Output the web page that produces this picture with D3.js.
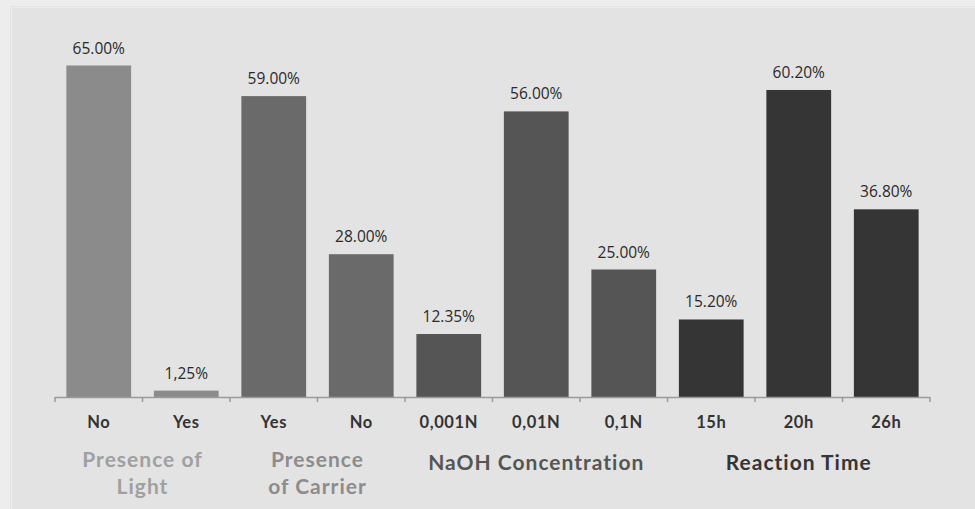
<!DOCTYPE html>
<html>
<head>
<meta charset="utf-8">
<script src="https://cdn.jsdelivr.net/npm/d3@7"></script>
<style>
  html, body { margin: 0; padding: 0; background: #ededed; }
  svg { display: block; }
</style>
</head>
<body>
<svg id="chart" width="975" height="509"></svg>
<script>
// Yield (%) by experimental condition
const categories = ["No", "Yes", "Yes", "No", "0,001N", "0,01N", "0,1N", "15h", "20h", "26h"];
const values = [65, 1.25, 59, 28, 12.35, 56, 25, 15.2, 60.2, 36.8];
const valueLabels = ["65.00%", "1,25%", "59.00%", "28.00%", "12.35%", "56.00%", "25.00%", "15.20%", "60.20%", "36.80%"];
const groupOfBar = [0, 0, 1, 1, 2, 2, 2, 3, 3, 3];
const groupNames = [["Presence of", "Light"], ["Presence", "of Carrier"], ["NaOH Concentration"], ["Reaction Time"]];
const barColors = ["#8b8b8b", "#6a6a6a", "#555555", "#353535"];
const groupTextColors = ["#a0a0a0", "#8c8c8c", "#555555", "#353535"];

const svg = d3.select("#chart");
const W = 975, H = 509;
const baseY = 397, topY = 40;

// panel background
svg.append("rect").attr("x", 10).attr("y", 6).attr("width", W - 10).attr("height", H - 6)
  .attr("fill", "#e3e3e3");
svg.append("rect").attr("x", 11.5).attr("y", 7.5).attr("width", W - 10).attr("height", H - 6)
  .attr("fill", "none").attr("stroke", "#ececec").attr("stroke-width", 1);

const idx = d3.range(categories.length);
const x = d3.scaleBand().domain(idx).range([55, 930]).paddingInner(0.26).paddingOuter(0.13);
const y = d3.scaleLinear().domain([0, 70]).range([baseY, topY]);

// bars
svg.append("g").selectAll("rect").data(idx).join("rect")
  .attr("x", i => x(i))
  .attr("y", i => y(values[i]))
  .attr("width", x.bandwidth())
  .attr("height", i => y(0) - y(values[i]))
  .attr("fill", i => barColors[groupOfBar[i]]);

// value labels
svg.append("g").selectAll("text").data(idx).join("text")
  .attr("x", i => x(i) + x.bandwidth() / 2)
  .attr("y", i => y(values[i]) - 12)
  .attr("text-anchor", "middle")
  .attr("font-family", "'Open Sans', sans-serif")
  .attr("font-size", 15.5)
  .attr("fill", "#2a2a2a")
  .text(i => valueLabels[i]);

// category axis with ticks between categories
const step = x.step();
const x0 = x.range()[0];
const axis = svg.append("g");
axis.append("line").attr("x1", x0).attr("x2", x.range()[1])
  .attr("y1", baseY + 0.5).attr("y2", baseY + 0.5)
  .attr("stroke", "#9a9a9a").attr("stroke-width", 1.5);
axis.selectAll("line.tick").data(d3.range(categories.length + 1)).join("line")
  .attr("class", "tick")
  .attr("x1", k => x0 + k * step).attr("x2", k => x0 + k * step)
  .attr("y1", baseY).attr("y2", baseY + 5)
  .attr("stroke", "#9a9a9a").attr("stroke-width", 1.5);

// category labels
svg.append("g").selectAll("text").data(idx).join("text")
  .attr("x", i => x(i) + x.bandwidth() / 2)
  .attr("y", 428)
  .attr("text-anchor", "middle")
  .attr("font-family", "Lato, sans-serif")
  .attr("font-weight", "bold")
  .attr("font-size", 16.5)
  .attr("letter-spacing", 0.6)
  .attr("fill", "#333")
  .text(i => categories[i]);

// group labels centred under their bars
groupNames.forEach((lines, g) => {
  const members = idx.filter(i => groupOfBar[i] === g);
  const cx = (x(members[0]) + x(members[members.length - 1]) + x.bandwidth()) / 2;
  const t = svg.append("text")
    .attr("text-anchor", "middle")
    .attr("font-family", "Lato, sans-serif")
    .attr("font-weight", "bold")
    .attr("font-size", 21)
    .attr("letter-spacing", 1)
    .attr("fill", groupTextColors[g]);
  lines.forEach((line, j) => {
    t.append("tspan").attr("x", cx).attr("y", (lines.length > 1 ? 467 : 470) + j * 27).text(line);
  });
});
</script>
</body>
</html>
